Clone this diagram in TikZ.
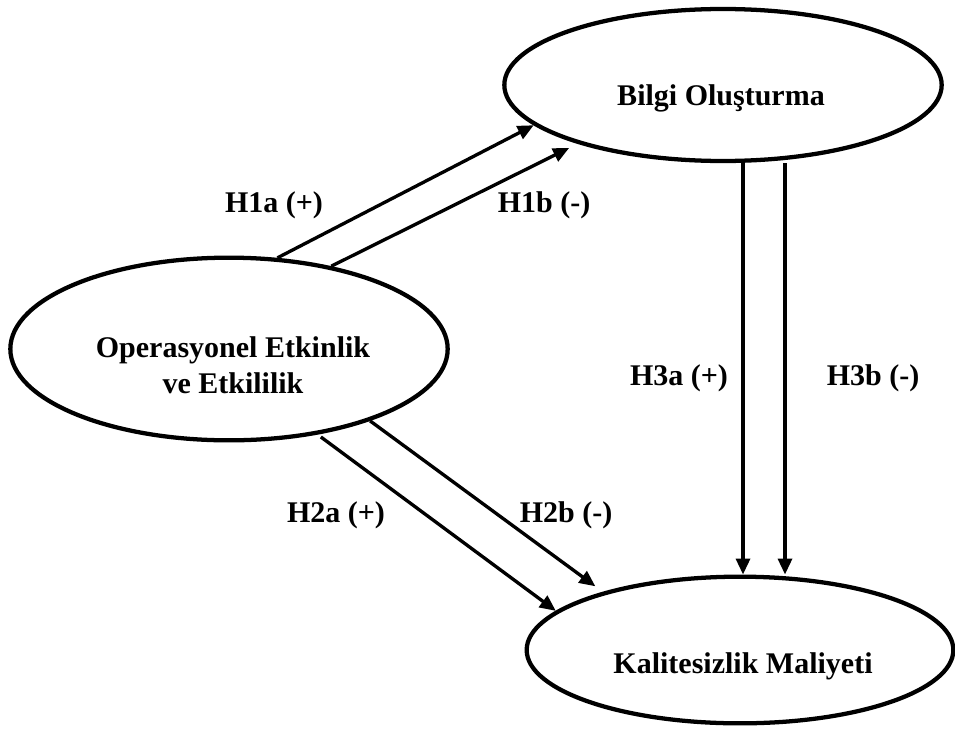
\documentclass[tikz,border=0pt]{standalone}
\usepackage{fontspec}
\setmainfont{Liberation Serif}
\usetikzlibrary{arrows.meta, shapes.geometric}
\tikzset{
    ovalN/.style={draw, ellipse, line width=3.2pt, inner sep=0pt},
    arrowH/.style={-{Triangle[length=12pt,width=10.5pt]}, line width=2.5pt},
    textN/.style={font=\bfseries\fontsize{22.5}{27}\selectfont, align=center, inner sep=0pt}
}
\begin{document}
\begin{tikzpicture}[x=0.75pt, y=-0.75pt]
    \useasboundingbox (0,0) rectangle (955,728);
    \node[ovalN, minimum width=328pt, minimum height=114pt] (bilgi) at (723,85) {};
    \node[ovalN, minimum width=328pt, minimum height=137pt] (oper) at (229,349) {};
    \node[ovalN, minimum width=320pt, minimum height=110pt] (kalite) at (740,650) {};
    \node[textN] (bilgiT) at (721,98) {Bilgi Oluşturma};
    \node[textN] (operT) at (233,365) {Operasyonel Etkinlik\\ve Etkililik};
    \node[textN] (kaliteT) at (743,666) {Kalitesizlik Maliyeti};
    %\draw hypotheses
    \draw[arrowH] (oper.62.7) -- (bilgi.192.75);
    \draw[arrowH, shorten >=7pt] (oper.39.7) -- (bilgi.202.8);
    \draw[arrowH, shorten <=3pt] (oper.-44.2) -- (kalite.168.6);
    \draw[arrowH, shorten >=7pt] (oper.-27.7) -- (kalite.157.7);
    \draw[arrowH] ([xshift=15pt]bilgi.south) -- ([xshift=2.25pt]kalite.north);
    \draw[arrowH] ([xshift=46.5pt]bilgi.south) -- ([xshift=33.75pt]kalite.north);
    \node[textN] (h1a) at (274,205) {H1a (+)};
    \node[textN] (h1b) at (544,205) {H1b (-)};
    \node[textN] (h2a) at (336,515) {H2a (+)};
    \node[textN] (h2b) at (566,515) {H2b (-)};
    \node[textN] (h3a) at (679,378) {H3a (+)};
    \node[textN] (h3b) at (873,378) {H3b (-)};
\end{tikzpicture}
\end{document}
